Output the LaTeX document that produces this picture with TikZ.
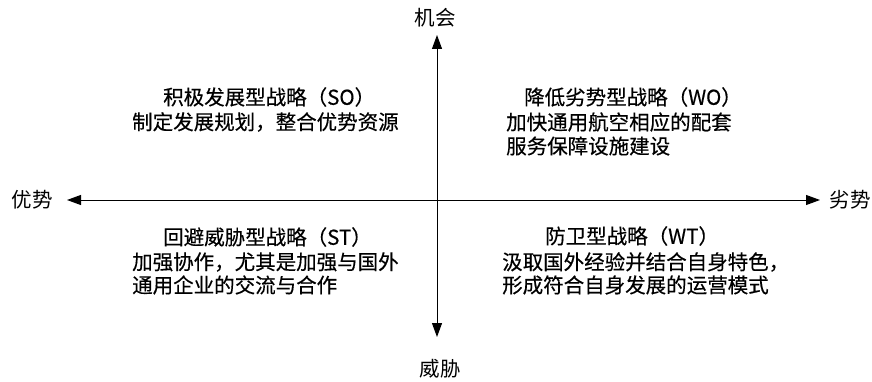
\documentclass[tikz,border=0pt]{standalone}
\usepackage{fontspec}
\setmainfont{Noto Sans CJK SC}
\newfontfamily\heifont[FakeBold=0.4]{Noto Sans CJK SC}
\usetikzlibrary{arrows.meta}
\begin{document}
\begin{tikzpicture}[x=1pt,y=-1pt,
  txt/.style={inner sep=0pt,anchor=west,font=\heifont\fontsize{20.5}{24}\selectfont},
  axlab/.style={inner sep=0pt,font=\fontsize{20.5}{24}\selectfont},
  axis/.style={line width=1pt,{Triangle[length=14pt,width=10pt]}-{Triangle[length=14pt,width=10pt]}}]
\useasboundingbox (0,0) rectangle (872,382);
\coordinate (L) at (67,200);
\coordinate (R) at (820,200);
\coordinate (T) at (437,35);
\coordinate (B) at (437,337);
\draw[axis] (L) -- (R);
\draw[axis] (T) -- (B);
\node[axlab] (op) at (435,18) {机会};
\node[axlab] (th) at (440,369) {威胁};
\node[axlab] (st) at (32,200) {优势};
\node[axlab] (wk) at (850,200) {劣势};
% SO
\node[txt] (so1) at (163,97) {积极发展型战略（SO）};
\node[txt] (so2) at (132,122) {制定发展规划，整合优势资源};
% WO
\node[txt] (wo1) at (524,97) {降低劣势型战略（WO）};
\node[txt] (wo2) at (506,122) {加快通用航空相应的配套};
\node[txt] (wo3) at (506,146) {服务保障设施建设};
% ST
\node[txt] (st1) at (163,237) {回避威胁型战略（ST）};
\node[txt] (st2) at (132,262) {加强协作，尤其是加强与国外};
\node[txt] (st3) at (132,285) {通用企业的交流与合作};
% WT
\node[txt] (wt1) at (545,236) {防卫型战略（WT）};
\node[txt] (wt2) at (502,262) {汲取国外经验并结合自身特色，};
\node[txt] (wt3) at (502,285) {形成符合自身发展的运营模式};
\end{tikzpicture}
\end{document}
